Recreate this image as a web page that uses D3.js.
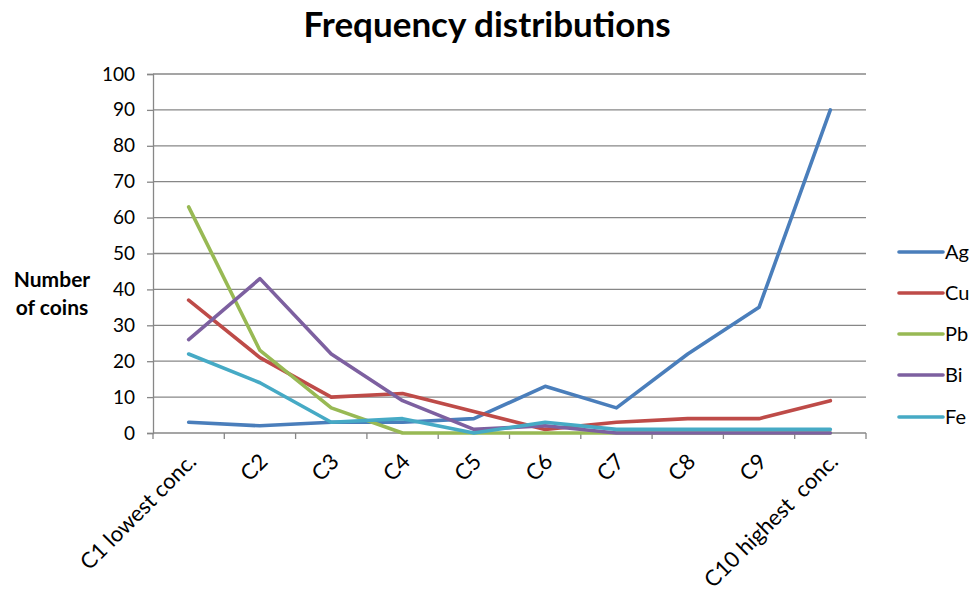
<!DOCTYPE html>
<html><head><meta charset="utf-8">
<script src="https://cdn.jsdelivr.net/npm/d3@7"></script>
<style>body{margin:0;background:#fff}svg{display:block}</style>
</head><body><svg id="c" width="974" height="603"></svg>
<script>
const categories = ["C1 lowest conc.","C2","C3","C4","C5","C6","C7","C8","C9","C10 highest  conc."];
const seriesNames = ["Ag","Cu","Pb","Bi","Fe"];
const colors = ["#4a7ebb","#be4b48","#98b954","#7d60a0","#46aac5"];
const Ag = [3,2,3,3,4,13,7,22,35,90];
const Cu = [37,21,10,11,6,1,3,4,4,9];
const Pb = [63,23,7,0,0,0,0,0,0,0];
const Bi = [26,43,22,9,1,2,0,0,0,0];
const Fe = [22,14,3,4,0,3,1,1,1,1];
const yTicks = [0,10,20,30,40,50,60,70,80,90,100];
const values = [Ag,Cu,Pb,Bi,Fe];

const F = "Lato, 'Open Sans', sans-serif";
const svg = d3.select("#c").style("font-family",F);
const L=153,R=866,T=74,B=433;
const x = d3.scaleBand().domain(categories).range([L,R]);
const y = d3.scaleLinear().domain([0,100]).range([B,T]);

svg.append("text").attr("x",487).attr("y",37).attr("text-anchor","middle")
  .style("font-family",F).style("font-size","35px").style("font-weight","bold").text("Frequency distributions");

// grid
svg.append("g").selectAll("line").data(yTicks.slice(1)).join("line")
  .attr("x1",L).attr("x2",R).attr("y1",d=>y(d)).attr("y2",d=>y(d))
  .attr("stroke","#878787").attr("stroke-width",1.3);

const ya = svg.append("g").attr("transform",`translate(${L},0)`)
  .call(d3.axisLeft(y).tickValues(yTicks).tickSize(6).tickPadding(12));
ya.select(".domain").attr("stroke","#878787").attr("stroke-width",1.3);
ya.selectAll(".tick line").attr("stroke","#878787").attr("stroke-width",1.3);
ya.selectAll("text").style("font-size","19px").style("font-family",F).attr("fill","#000");

// x axis
const xa = svg.append("g").attr("transform",`translate(0,${B})`);
xa.append("line").attr("x1",L).attr("x2",R).attr("stroke","#878787").attr("stroke-width",1.3);
const bounds = categories.map(c=>x(c)).concat([R]);
xa.selectAll("line.t").data(bounds).join("line").attr("class","t")
  .attr("x1",d=>d).attr("x2",d=>d).attr("y1",0).attr("y2",6)
  .attr("stroke","#878787").attr("stroke-width",1.3);
xa.selectAll("text").data(categories).join("text")
  .attr("transform",d=>`translate(${x(d)+x.bandwidth()/2+9},${30}) rotate(-45)`)
  .attr("text-anchor","end").style("font-size","22px").style("font-family",F)
  .style("white-space","pre")
  .text(d=>d);

// y label
svg.append("text").attr("x",52).attr("y",287).attr("text-anchor","middle").style("font-size","21px").style("font-weight","bold").text("Number");
svg.append("text").attr("x",52).attr("y",315).attr("text-anchor","middle").style("font-size","21px").style("font-weight","bold").text("of coins");

const line = d3.line().x((d,i)=>x(categories[i])+x.bandwidth()/2).y(d=>y(d));
svg.append("g").selectAll("path").data(values).join("path")
  .attr("d",d=>line(d)).attr("fill","none").attr("stroke",(d,i)=>colors[i])
  .attr("stroke-width",3.6).attr("stroke-linejoin","round").attr("stroke-linecap","round");

const lg = svg.append("g");
const ly = [252,293,334,375,417];
seriesNames.forEach((n,i)=>{
  lg.append("line").attr("x1",899).attr("x2",943).attr("y1",ly[i]).attr("y2",ly[i])
    .attr("stroke",colors[i]).attr("stroke-width",3.6).attr("stroke-linecap","round");
  lg.append("text").attr("x",945).attr("y",ly[i]+7).style("font-size","20px").text(n);
});
</script></body></html>
